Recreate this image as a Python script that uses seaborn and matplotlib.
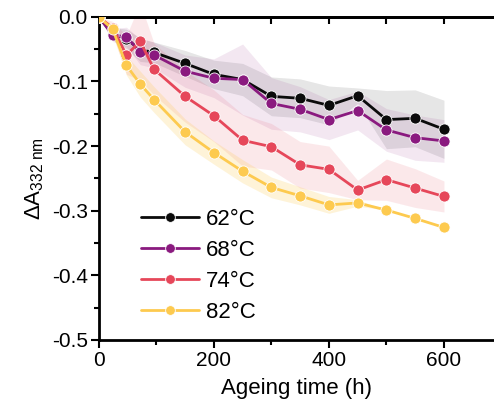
import numpy as np
import pandas as pd
import matplotlib
matplotlib.use('Agg')
import matplotlib.pyplot as plt
from matplotlib.ticker import MultipleLocator
import seaborn as sns

# Ageing time (h) and mean / sd of the absorbance change at 332 nm
time_h = [0, 24, 48, 72, 96, 150, 200, 250, 300, 350, 400, 450, 500, 550, 600]

mean_62 = [0, -0.026, -0.034, -0.051, -0.055, -0.072, -0.089, -0.097, -0.123, -0.126, -0.137, -0.122, -0.159, -0.157, -0.174]
mean_68 = [0, -0.028, -0.031, -0.054, -0.059, -0.084, -0.095, -0.097, -0.134, -0.143, -0.159, -0.145, -0.175, -0.187, -0.192]
mean_74 = [0, -0.017, -0.059, -0.038, -0.081, -0.123, -0.153, -0.191, -0.201, -0.229, -0.236, -0.268, -0.252, -0.265, -0.278]
mean_82 = [0, -0.019, -0.075, -0.104, -0.128, -0.178, -0.210, -0.239, -0.264, -0.277, -0.291, -0.288, -0.299, -0.312, -0.326]

sd_62 = [0, 0.010, 0.015, 0.018, 0.016, 0.020, 0.022, 0.025, 0.030, 0.030, 0.030, 0.012, 0.045, 0.044, 0.045]
sd_68 = [0, 0.010, 0.015, 0.020, 0.020, 0.025, 0.030, 0.055, 0.040, 0.035, 0.031, 0.030, 0.033, 0.035, 0.033]
sd_74 = [0, 0.010, 0.030, 0.060, 0.040, 0.040, 0.040, 0.040, 0.036, 0.036, 0.036, 0.015, 0.032, 0.030, 0.024]
sd_82 = [0, 0.008, 0.015, 0.020, 0.020, 0.020, 0.018, 0.018, 0.016, 0.014, 0.013, 0.005, 0, 0, 0]

labels = ['62°C', '68°C', '74°C', '82°C']
colors = ['#0b0b0b', '#8a1a7f', '#e6475a', '#fdca4f']
band_alpha = [0.10, 0.10, 0.12, 0.22]

means = [mean_62, mean_68, mean_74, mean_82]
sds = [sd_62, sd_68, sd_74, sd_82]

rows = []
for lab, m in zip(labels, means):
    for t, v in zip(time_h, m):
        rows.append({'time': t, 'dA': v, 'temp': lab})
df = pd.DataFrame(rows)

sns.set_style('ticks')
plt.rcParams['font.family'] = ['Liberation Sans', 'DejaVu Sans']
plt.rcParams['mathtext.fontset'] = 'custom'
plt.rcParams['mathtext.rm'] = 'Liberation Sans'
plt.rcParams['mathtext.it'] = 'Liberation Sans:italic'
plt.rcParams['text.color'] = 'black'
plt.rcParams['axes.labelcolor'] = 'black'
plt.rcParams['xtick.color'] = 'black'
plt.rcParams['ytick.color'] = 'black'
plt.rcParams['axes.edgecolor'] = 'black'

fig = plt.figure(figsize=(4.94, 4.12), dpi=100)
ax = fig.add_axes([0.200, 0.175, 0.800, 0.784])

for lab, m, s, c, a in zip(labels, means, sds, colors, band_alpha):
    m = np.array(m)
    s = np.array(s)
    ax.fill_between(time_h, m - s, m + s, color=c, alpha=a, linewidth=0, zorder=1)

sns.lineplot(data=df, x='time', y='dA', hue='temp', hue_order=labels,
             palette=dict(zip(labels, colors)), marker='o', markersize=8,
             markeredgecolor='white', markeredgewidth=0.6, linewidth=2,
             errorbar=None, ax=ax, zorder=3)

ax.set_xlim(0, 687)
ax.set_ylim(-0.5, 0.0)
ax.xaxis.set_major_locator(MultipleLocator(200))
ax.xaxis.set_minor_locator(MultipleLocator(100))
ax.yaxis.set_major_locator(MultipleLocator(0.1))
ax.yaxis.set_minor_locator(MultipleLocator(0.05))
ax.yaxis.set_major_formatter(matplotlib.ticker.FormatStrFormatter('%.1f'))

ax.tick_params(which='major', direction='out', length=6, width=1.5, labelsize=15, pad=2)
ax.tick_params(which='minor', direction='out', length=3.5, width=1.5)

for side in ['left', 'bottom', 'top']:
    ax.spines[side].set_linewidth(2)
ax.spines['right'].set_visible(False)

top = ax.secondary_xaxis('top')
top.set_xticks([100, 200, 300, 400, 500, 600])
top.tick_params(direction='in', length=5, width=1.5, labeltop=False)
top.spines['top'].set_linewidth(2)

ax.set_xlabel('Ageing time (h)', fontsize=16, labelpad=6)
ax.set_ylabel(r'$\Delta$A$_{332\ \mathrm{nm}}$', fontsize=16, labelpad=4)

leg = ax.legend(loc='lower left', bbox_to_anchor=(0.085, 0.025), frameon=False,
                fontsize=16, handlelength=2.6, handletextpad=0.3,
                labelspacing=0.45, borderaxespad=0)
for h in leg.legend_handles:
    h.set_markersize(7)

fig.savefig('out.png', dpi=100)
